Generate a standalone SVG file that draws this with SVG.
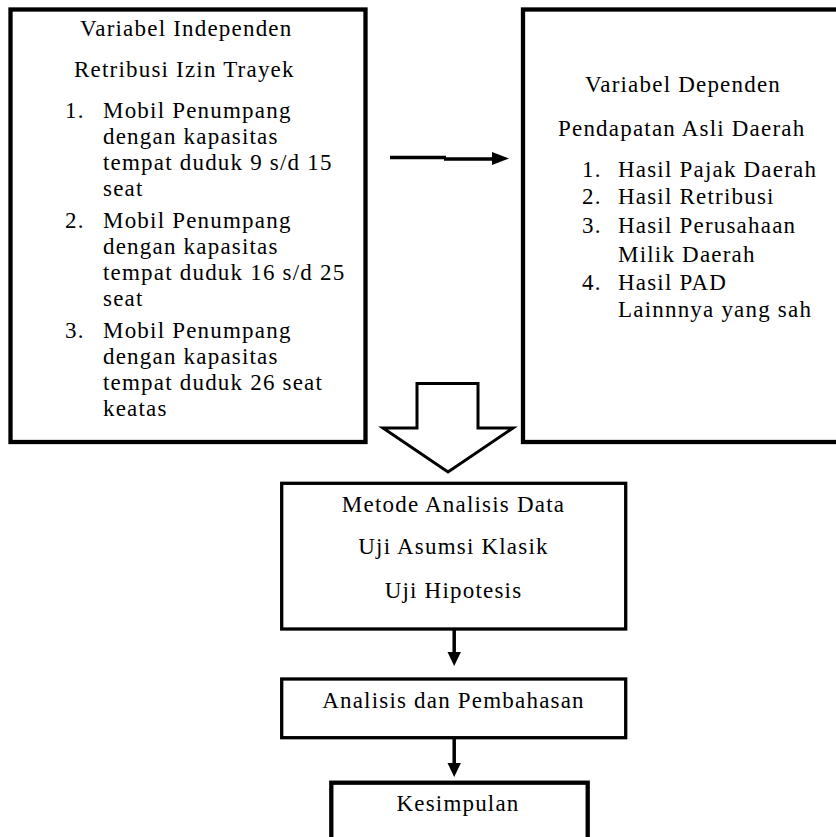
<svg xmlns="http://www.w3.org/2000/svg" width="836" height="837" viewBox="0 0 836 837">
<style>
  text { font-family: "Liberation Serif", "Times New Roman", serif; font-size: 23px; fill: #000; letter-spacing: 1.2px; }
  .c { text-anchor: middle; }
  .box { fill: #fff; stroke: #000; }
  .thick { stroke-width: 4.3; }
  .thin { stroke-width: 3.3; }
  .conn { stroke: #000; fill: none; }
</style>
<defs>
  <marker id="ah" markerUnits="userSpaceOnUse" markerWidth="16" markerHeight="16" refX="16" refY="7" viewBox="0 0 16 14" orient="auto">
    <path d="M0,0 L16,7 L0,14 Z" fill="#000"/>
  </marker>
</defs>
<rect width="836" height="837" fill="#fff"/>

<g id="independen">
  <rect class="box thick" x="10.5" y="9.5" width="355" height="432.5"/>
  <text x="80" y="36">Variabel Independen</text>
  <text x="74" y="77">Retribusi Izin Trayek</text>
  <text x="65" y="118">1.</text>
  <text x="103" y="118">Mobil Penumpang</text>
  <text x="103" y="144">dengan kapasitas</text>
  <text x="103" y="170">tempat duduk 9 s/d 15</text>
  <text x="103" y="196">seat</text>
  <text x="65" y="228">2.</text>
  <text x="103" y="228">Mobil Penumpang</text>
  <text x="103" y="254">dengan kapasitas</text>
  <text x="103" y="280">tempat duduk 16 s/d 25</text>
  <text x="103" y="306">seat</text>
  <text x="65" y="338">3.</text>
  <text x="103" y="338">Mobil Penumpang</text>
  <text x="103" y="364">dengan kapasitas</text>
  <text x="103" y="390">tempat duduk 26 seat</text>
  <text x="103" y="416">keatas</text>
</g>

<g id="dependen">
  <rect class="box thick" x="523" y="9.5" width="340" height="432.5"/>
  <text x="585" y="92">Variabel Dependen</text>
  <text x="558" y="136">Pendapatan Asli Daerah</text>
  <text x="582" y="177">1.</text>
  <text x="618" y="177">Hasil Pajak Daerah</text>
  <text x="582" y="204">2.</text>
  <text x="618" y="204">Hasil Retribusi</text>
  <text x="582" y="233">3.</text>
  <text x="618" y="233">Hasil Perusahaan</text>
  <text x="618" y="262">Milik Daerah</text>
  <text x="582" y="290">4.</text>
  <text x="618" y="290">Hasil PAD</text>
  <text x="618" y="317">Lainnnya yang sah</text>
</g>

<g id="metode">
  <rect class="box thin" x="281.7" y="483.3" width="344" height="145.7"/>
  <text class="c" x="453.5" y="512">Metode Analisis Data</text>
  <text class="c" x="453.5" y="554">Uji Asumsi Klasik</text>
  <text class="c" x="453.5" y="598">Uji Hipotesis</text>
</g>

<g id="analisis">
  <rect class="box thin" x="281.7" y="679" width="344" height="58.7"/>
  <text class="c" x="453.5" y="708">Analisis dan Pembahasan</text>
</g>

<g id="kesimpulan">
  <rect class="box thick" x="331.3" y="782.7" width="256.4" height="80"/>
  <text class="c" x="458" y="811">Kesimpulan</text>
</g>

<g id="connectors">
  <path class="conn" d="M390,157.5 H446" stroke-width="3.5"/>
  <path class="conn" d="M444,159 H494" stroke-width="3.5"/>
  <path d="M492,152 L509,158.5 L492,165 Z" fill="#000"/>
  <polygon points="417,383.5 478,383.5 478,428 513,428 448,472 383,428 417,428" fill="#fff" stroke="#000" stroke-width="3"/>
  <path class="conn" d="M454.2,629 V652" stroke-width="3.5"/>
  <path d="M447.5,652 L460.9,652 L454.2,666 Z" fill="#000"/>
  <path class="conn" d="M454.2,737.7 V763" stroke-width="3.5"/>
  <path d="M447.5,763 L460.9,763 L454.2,777 Z" fill="#000"/>
</g>
</svg>
